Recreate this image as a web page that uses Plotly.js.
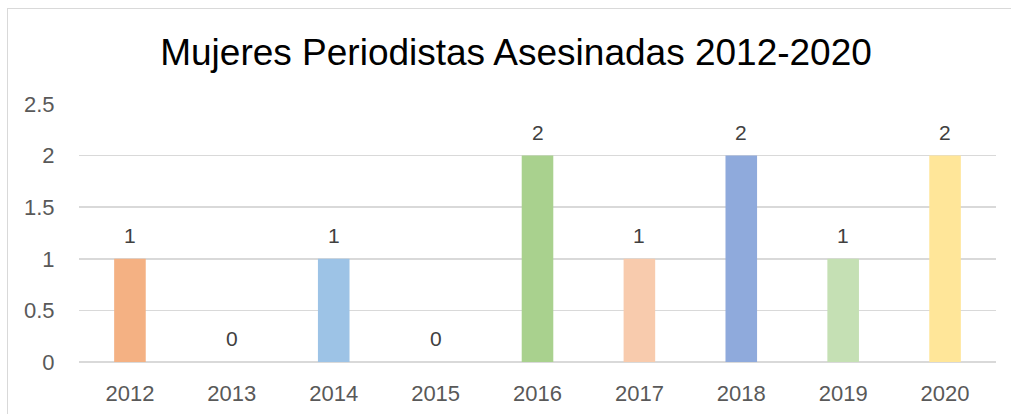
<!DOCTYPE html>
<html>
<head>
<meta charset="utf-8">
<script src="https://cdn.plot.ly/plotly-3.0.1.min.js"></script>
<style>
html,body{margin:0;padding:0;overflow:hidden;background:#fff;}
#chart{width:1011px;height:414px;position:absolute;left:0;top:0;}
#frame{position:absolute;left:7px;top:8px;width:2000px;height:2000px;border:1.5px solid #d9d9d9;pointer-events:none;}
</style>
</head>
<body>
<div id="chart"></div>
<div id="frame"></div>
<script>
const years = ['2012','2013','2014','2015','2016','2017','2018','2019','2020'];
const counts = [1, 0, 1, 0, 2, 1, 2, 1, 2];
const barColors = ['#F4B183','#F4B183','#9DC3E6','#9DC3E6','#A9D18E','#F8CBAD','#8FAADC','#C5E0B4','#FFE699'];
const yTicks = [0, 0.5, 1, 1.5, 2, 2.5];
const titleText = 'Mujeres Periodistas Asesinadas 2012-2020';

const font = 'Liberation Sans, Arial, sans-serif';

const trace = {
  type: 'bar',
  x: years,
  y: counts,
  marker: {color: barColors, line: {width: 0}},
  hoverinfo: 'x+y'
};

const annotations = years.map((yr, i) => ({
  x: i, y: counts[i], xref: 'x', yref: 'y',
  text: String(counts[i]), showarrow: false,
  yanchor: 'bottom', yshift: 10,
  font: {family: font, size: 21, color: '#404040'}
}));

const layout = {
  width: 1011, height: 414,
  margin: {l: 79, r: 15, t: 104, b: 52},
  paper_bgcolor: '#fff', plot_bgcolor: '#fff',
  title: {
    text: titleText,
    font: {family: font, size: 37, color: '#000'},
    x: 0.4766, xanchor: 'center', xref: 'paper',
    y: 0.875, yanchor: 'middle', yref: 'container'
  },
  bargap: 0.69,
  showlegend: false,
  xaxis: {
    type: 'category',
    categoryorder: 'array',
    categoryarray: years,
    range: [-0.5, years.length - 0.5],
    tickfont: {family: font, size: 22, color: '#595959'},
    showgrid: false, showline: false, zeroline: false,
    ticks: 'outside', ticklen: 12, tickcolor: 'rgba(0,0,0,0)'
  },
  yaxis: {
    range: [0, 2.5],
    tickvals: yTicks,
    ticktext: yTicks.map(v => String(v)),
    tickfont: {family: font, size: 22, color: '#595959'},
    showgrid: true, gridcolor: '#d9d9d9', gridwidth: 1.5,
    zeroline: true, zerolinecolor: '#d9d9d9', zerolinewidth: 1.5,
    showline: false, ticks: 'outside', ticklen: 19, tickcolor: 'rgba(0,0,0,0)'
  },
  annotations: annotations
};

Plotly.newPlot('chart', [trace], layout, {displayModeBar: false, staticPlot: true});
</script>
</body>
</html>
